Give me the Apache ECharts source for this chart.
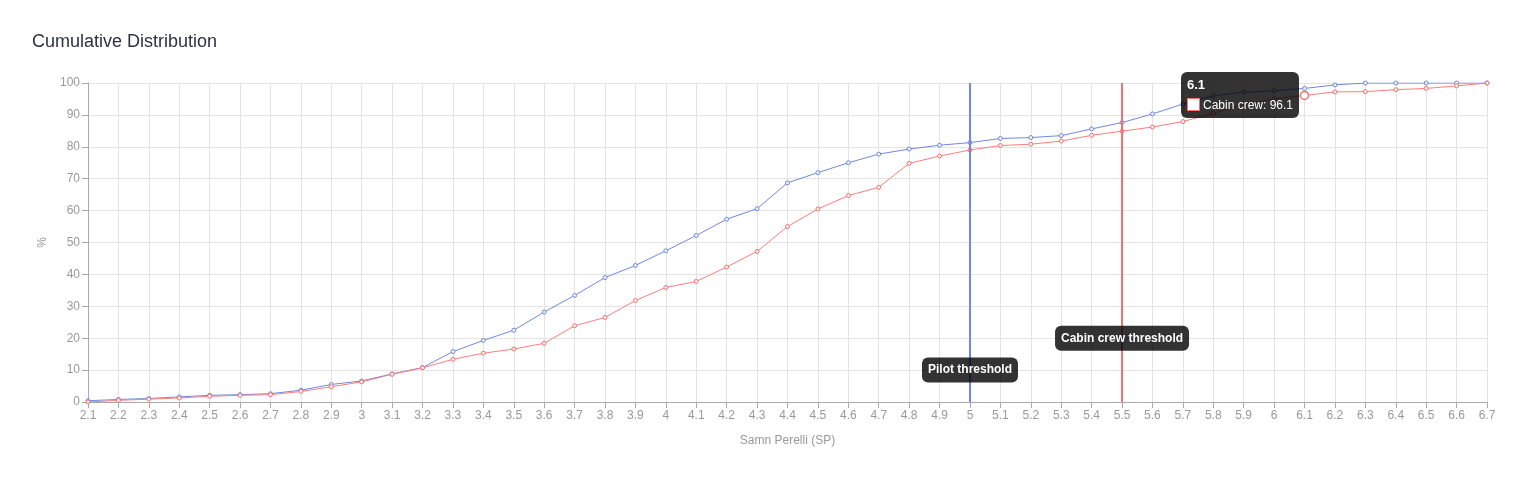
<!DOCTYPE html>
<html lang="en">
<head>
    <meta charset="UTF-8">
    <title>Cumulative Distribution</title>
    <script src="https://cdn.jsdelivr.net/npm/echarts@6/dist/echarts.min.js"></script>
    <style>
        html, body { margin: 0; padding: 0; background: #fff; }
        #chart { width: 1530px; height: 477px; }
    </style>
</head>
<body>
<div id="chart"></div>
<script>
    // SP scale steps (x axis)
    var categories = ['2.1', '2.2', '2.3', '2.4', '2.5', '2.6', '2.7', '2.8', '2.9', '3',
        '3.1', '3.2', '3.3', '3.4', '3.5', '3.6', '3.7', '3.8', '3.9', '4',
        '4.1', '4.2', '4.3', '4.4', '4.5', '4.6', '4.7', '4.8', '4.9', '5',
        '5.1', '5.2', '5.3', '5.4', '5.5', '5.6', '5.7', '5.8', '5.9', '6',
        '6.1', '6.2', '6.3', '6.4', '6.5', '6.6', '6.7'];
    // cumulative %
    var pilotValues = [0.4, 0.8, 1.1, 1.6, 2.1, 2.3, 2.6, 3.7, 5.5, 6.6,
        8.8, 10.8, 15.8, 19.3, 22.5, 28.2, 33.4, 39.0, 42.8, 47.4,
        52.2, 57.3, 60.6, 68.7, 71.9, 75.0, 77.7, 79.3, 80.5, 81.3,
        82.6, 82.9, 83.5, 85.6, 87.6, 90.3, 93.4, 96.0, 97.1, 97.6,
        98.3, 99.4, 100, 100, 100, 100, 100];
    var cabinValues = [0, 0.5, 0.9, 1.25, 1.8, 2.1, 2.3, 3.3, 4.8, 6.3,
        8.7, 10.7, 13.4, 15.3, 16.6, 18.4, 23.9, 26.5, 31.8, 35.9,
        37.8, 42.3, 47.2, 55.0, 60.5, 64.7, 67.3, 74.8, 77.1, 79.0,
        80.4, 80.8, 81.8, 83.6, 84.9, 86.2, 87.9, 90.5, 93.3, 95.0,
        96.1, 97.2, 97.3, 97.9, 98.3, 99.1, 100];
    var yTicks = [0, 10, 20, 30, 40, 50, 60, 70, 80, 90, 100];
    var pilotThreshold = '5';
    var cabinThreshold = '5.5';
    var pilotLabelAt = 10;
    var cabinLabelAt = 20;
    var hoverIndex = 40;

    var blue = '#7088e0';
    var red = '#f07272';

    var chart = echarts.init(document.getElementById('chart'));

    var noteLabel = {
        show: true,
        position: 'inside',
        color: '#fff',
        fontWeight: 'bold',
        fontSize: 12,
        backgroundColor: 'rgba(0,0,0,0.8)',
        borderRadius: 6,
        padding: [7, 6, 6, 6]
    };

    chart.setOption({
        animation: false,
        textStyle: { fontFamily: '"Liberation Sans", Arial, sans-serif' },
        title: {
            text: 'Cumulative Distribution',
            left: 27,
            top: 28,
            textStyle: { fontSize: 18, fontWeight: 'normal', color: '#2b3240' }
        },
        grid: { left: 88, right: 43, top: 83, bottom: 75 },
        tooltip: {
            trigger: 'item',
            alwaysShowContent: true,
            backgroundColor: 'rgba(0,0,0,0.8)',
            borderWidth: 0,
            borderRadius: 6,
            padding: [6, 6],
            extraCssText: 'box-shadow:none;',
            textStyle: { color: '#fff', fontSize: 12 },
            position: function (point, params, dom, rect, size) {
                return [point[0] - size.contentSize[0] - 6, point[1] - 23];
            },
            formatter: function (p) {
                return '<div style="font-weight:bold;font-size:13px;margin-bottom:6px;line-height:14px">' + p.name + '</div>' +
                    '<div style="line-height:14px"><span style="display:inline-block;width:11px;height:11px;background:#fff;border:1px solid ' +
                    red + ';margin-right:3px;vertical-align:-2px"></span>' + p.seriesName + ': ' + p.value + '</div>';
            }
        },
        xAxis: {
            type: 'category',
            data: categories,
            boundaryGap: false,
            name: 'Samn Perelli (SP)',
            nameLocation: 'middle',
            nameGap: 33,
            nameTextStyle: { color: '#999', fontSize: 12 },
            axisLine: { lineStyle: { color: '#aaa' } },
            axisTick: { show: true, length: 6, lineStyle: { color: '#aaa' } },
            axisLabel: { interval: 0, color: '#999', fontSize: 12, margin: 8 },
            splitLine: { show: true, lineStyle: { color: '#e4e4e4' } }
        },
        yAxis: {
            type: 'value',
            min: yTicks[0],
            max: yTicks[yTicks.length - 1],
            interval: yTicks[1] - yTicks[0],
            name: '%',
            nameLocation: 'middle',
            nameRotate: 90,
            nameGap: 38,
            nameTextStyle: { color: '#999', fontSize: 12 },
            axisLine: { show: true, lineStyle: { color: '#aaa' } },
            axisTick: { show: true, length: 6, lineStyle: { color: '#aaa' } },
            axisLabel: { color: '#999', fontSize: 12, margin: 8 },
            splitLine: { show: true, lineStyle: { color: '#e4e4e4' } }
        },
        series: [
            {
                name: 'Pilots',
                type: 'line',
                data: pilotValues,
                symbol: 'circle',
                symbolSize: 4,
                lineStyle: { color: blue, width: 1 },
                itemStyle: { color: '#eef1fb', borderColor: blue, borderWidth: 1 },
                z: 3,
                markLine: {
                    silent: true,
                    symbol: 'none',
                    label: { show: false },
                    lineStyle: { color: blue, width: 2, type: 'solid' },
                    data: [{ xAxis: pilotThreshold }]
                },
                markPoint: {
                    silent: true,
                    symbol: 'rect',
                    symbolSize: 1,
                    itemStyle: { color: 'rgba(0,0,0,0)' },
                    label: noteLabel,
                    data: [{ coord: [pilotThreshold, pilotLabelAt], value: 'Pilot threshold' }]
                }
            },
            {
                name: 'Cabin crew',
                type: 'line',
                data: cabinValues,
                symbol: 'circle',
                symbolSize: 4,
                lineStyle: { color: red, width: 1 },
                itemStyle: { color: '#fdeeee', borderColor: red, borderWidth: 1 },
                emphasis: { scale: 2, itemStyle: { color: '#fff', borderColor: red, borderWidth: 1.5 } },
                z: 3,
                markLine: {
                    silent: true,
                    symbol: 'none',
                    label: { show: false },
                    lineStyle: { color: red, width: 2, type: 'solid' },
                    data: [{ xAxis: cabinThreshold }]
                },
                markPoint: {
                    silent: true,
                    symbol: 'rect',
                    symbolSize: 1,
                    itemStyle: { color: 'rgba(0,0,0,0)' },
                    label: noteLabel,
                    data: [{ coord: [cabinThreshold, cabinLabelAt], value: 'Cabin crew threshold' }]
                }
            }
        ]
    });

    chart.dispatchAction({ type: 'highlight', seriesIndex: 1, dataIndex: hoverIndex });
    chart.dispatchAction({ type: 'showTip', seriesIndex: 1, dataIndex: hoverIndex });
</script>
</body>
</html>
